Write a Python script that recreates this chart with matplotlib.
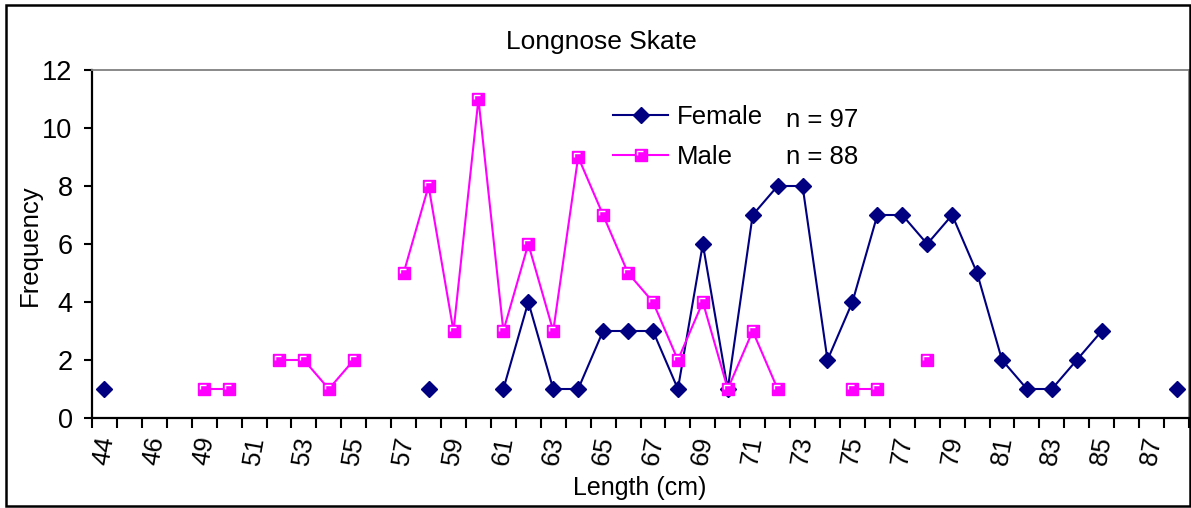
import matplotlib
matplotlib.use("Agg")
import matplotlib.pyplot as plt
import numpy as np
from matplotlib.legend_handler import HandlerTuple
from matplotlib.path import Path
from matplotlib.patches import Rectangle

plt.rcParams["font.family"] = ["Liberation Sans", "DejaVu Sans"]

nan = np.nan

# length classes (cm) on the category axis; 47 has no row in the sheet
lengths = [44, 45, 46, 48, 49, 50, 51, 52, 53, 54, 55, 56, 57, 58, 59, 60,
           61, 62, 63, 64, 65, 66, 67, 68, 69, 70, 71, 72, 73, 74, 75, 76,
           77, 78, 79, 80, 81, 82, 83, 84, 85, 86, 87, 88]

female = [1, nan, nan, nan, nan, nan, nan, nan, nan, nan, nan, nan, nan, 1,
          nan, nan, 1, 4, 1, 1, 3, 3, 3, 1, 6, 1, 7, 8, 8, 2, 4, 7,
          7, 6, 7, 5, 2, 1, 1, 2, 3, nan, nan, 1]

male = [nan, nan, nan, nan, 1, 1, nan, 2, 2, 1, 2, nan, 5, 8, 3, 11,
        3, 6, 3, 9, 7, 5, 4, 2, 4, 1, 3, 1, nan, nan, 1, 1,
        nan, 2, nan, nan, nan, nan, nan, nan, nan, nan, nan, nan]

n_female = 97
n_male = 88

NAVY = "#000080"
MAGENTA = "#FF00FF"

W, H = 1191, 508
fig = plt.figure(figsize=(W / 100, H / 100), dpi=100)
ax = fig.add_axes([92 / W, 1 - 418 / H, (1189 - 92) / W, (418 - 70) / H])

x = np.arange(len(lengths))

(f_line,) = ax.plot(x, female, color=NAVY, lw=1.5, marker="D", ms=8.4,
                    mfc=NAVY, mec=NAVY, zorder=3, label="Female")
(m_line,) = ax.plot(x, male, color=MAGENTA, lw=1.5, marker="s", ms=8.8,
                    mfc=MAGENTA, mec=MAGENTA, zorder=4, label="Male")
# white corner highlight that Excel draws on the square markers
hl_path = Path([(-1, 0), (-1, 1), (0.6, 1)], [Path.MOVETO, Path.LINETO, Path.LINETO])
(m_hl,) = ax.plot(x, male, ls="none", marker=hl_path, ms=8.8 * 0.64,
                  mfc="none", mec="white", mew=1.0, zorder=5)

ax.set_xlim(-0.5, len(lengths) - 0.5)
ax.set_ylim(0, 12)
ax.set_yticks(np.arange(0, 13, 2))
ax.set_xticks(x[::2])
ax.set_xticklabels([str(v) for v in lengths[::2]], rotation=80, ha="center")
ax.set_xticks(np.arange(-0.5, len(lengths)), minor=True)
ax.tick_params(axis="x", which="major", length=0, pad=12, labelsize=18.5)
ax.tick_params(axis="x", which="minor", length=7, width=1.5, direction="out")
ax.tick_params(axis="y", length=6, width=1.5, direction="out", labelsize=19.5, pad=8)

for side in ("left", "bottom"):
    ax.spines[side].set_color("black")
    ax.spines[side].set_linewidth(1.6)
for side in ("top", "right"):
    ax.spines[side].set_color("#808080")
    ax.spines[side].set_linewidth(1.3)

fig.text(601 / W, 1 - 42 / H, "Longnose Skate", ha="center", va="center", fontsize=19)
fig.text(30 / W, 1 - 245 / H, "Frequency", ha="center", va="center",
         rotation=90, fontsize=18.5)
fig.text(640 / W, 1 - 488 / H, "Length (cm)", ha="center", va="center", fontsize=18)

leg = ax.legend([f_line, (m_line, m_hl)], ["Female", "Male"],
                handler_map={tuple: HandlerTuple(ndivide=1)},
                loc="center left", bbox_to_anchor=(613 / W, 1 - 137 / H),
                bbox_transform=fig.transFigure, frameon=False, fontsize=18.5,
                handlelength=2.15, handletextpad=0.35, labelspacing=0.6,
                borderpad=0, borderaxespad=0, numpoints=1)

fig.text(786 / W, 1 - 120 / H, f"n = {n_female}", ha="left", va="center", fontsize=18.5)
fig.text(786 / W, 1 - 157 / H, f"n = {n_male}", ha="left", va="center", fontsize=18.5)

fig.patches.append(Rectangle((6 / W, 2 / H), (1190 - 6) / W, (506 - 5) / H,
                             transform=fig.transFigure, fill=False,
                             edgecolor="black", lw=1.8, zorder=10))

fig.savefig("out.png", dpi=100)
